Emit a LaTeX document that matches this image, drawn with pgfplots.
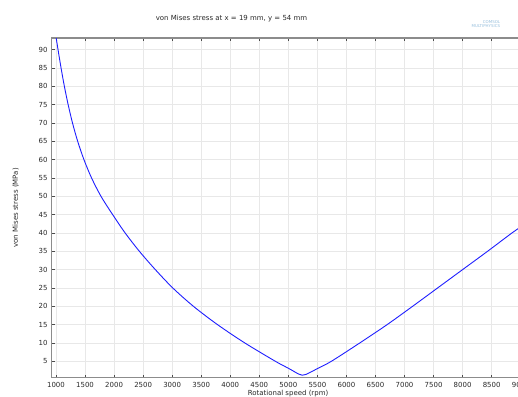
\documentclass[border=0pt]{standalone}
\usepackage{fontspec}
\setmainfont{DejaVu Sans}
\usepackage{pgfplots}
\pgfplotsset{compat=1.18}
\definecolor{axgray}{RGB}{140,140,140}
\definecolor{gridgray}{RGB}{232,232,232}
\definecolor{txtgray}{RGB}{40,40,40}
\definecolor{comsol}{RGB}{150,190,220}
\begin{document}
\begin{tikzpicture}
\useasboundingbox (-51.7bp,-19.3bp) rectangle (466.3bp,377.7bp);
\begin{axis}[
  at={(0,0)}, anchor=south west,
  scale only axis, width=469bp, height=339.7bp,
  xmin=926, xmax=9000, ymin=0.52, ymax=93.16,
  xtick={1000,1500,...,9000},
  ytick={5,10,...,90},
  /pgf/number format/assume math mode=true,
  /pgf/number format/set thousands separator={},
  grid=major,
  major grid style={gridgray, line width=0.8bp},
  axis line style={axgray, line width=1.2bp},
  tick style={black!70, line width=0.6bp},
  major tick length=3bp,
  tick label style={font=\fontsize{7}{8}\selectfont, text=txtgray},
  xticklabel style={anchor=north, inner sep=0pt, yshift=-4bp},
  yticklabel style={anchor=east, inner sep=0pt, xshift=-4bp},
  label style={font=\fontsize{7}{8}\selectfont, text=txtgray},
  xlabel={Rotational speed (rpm)},
  ylabel={von Mises stress (MPa)},
  xlabel style={at={(axis description cs:0.504,-0.047)}, anchor=center},
  ylabel style={at={(axis description cs:-0.0768,0.5)}, anchor=center, rotate=0},
]
\addplot[color={rgb,255:red,30;green,30;blue,255}, line width=0.9bp, smooth, tension=0.5] coordinates {
(990,94.5) (1035,90) (1087,85) (1144,80) (1209,75) (1284,70) (1373,65)
(1481,60) (1612,55) (1774,50) (1975,45) (2190,40) (2435,35) (2710,30)
(3010,25) (3365,20) (3780,15) (4250,10) (4776,5) (5000,3.1)
(5100,2.2) (5180,1.5) (5240,1.2) (5300,1.4) (5380,2.0) (5500,3.0)
(5741,5) (6230,10) (6701,15) (7140,20) (7570,25) (8000,30) (8430,35)
(8850,40) (9000,41.6)
};
\end{axis}
\node[font=\fontsize{7}{8}\selectfont, text=txtgray] at (179.8bp,358.7bp) {von Mises stress at x = 19 mm, y = 54 mm};
\node[font=\fontsize{4}{4}\selectfont, text=comsol, anchor=east] at (452bp,356bp) {COMSOL};
\node[font=\fontsize{4}{4}\selectfont, text=comsol, anchor=east] at (452bp,351.5bp) {MULTIPHYSICS};
\end{tikzpicture}
\end{document}
